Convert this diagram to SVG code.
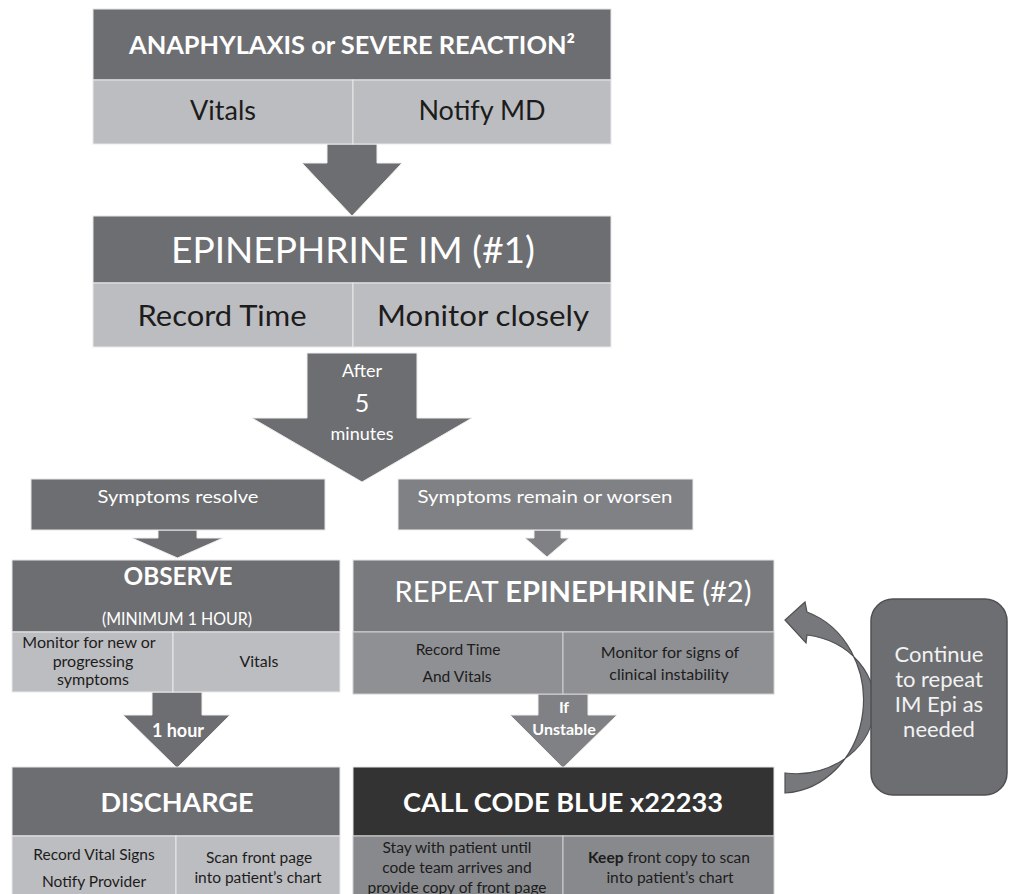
<svg xmlns="http://www.w3.org/2000/svg" width="1011" height="894" viewBox="0 0 1011 894">
<style>
text{font-family:Lato,"Open Sans","Liberation Sans",sans-serif;text-anchor:middle}
.hd{fill:#6d6e71;stroke:#e6e6e6;stroke-width:1}
.hd2{fill:#797a7d;stroke:#e6e6e6;stroke-width:1}
.hd3{fill:#333333;stroke:#e6e6e6;stroke-width:1}
.cl{fill:#bcbdc0;stroke:#e9e9e9;stroke-width:1}
.cm{fill:#8f9093;stroke:#d0d0d0;stroke-width:1}
.cn{fill:#88898c;stroke:#d0d0d0;stroke-width:1}
.ar{fill:#6d6e71;stroke:#eeeeee;stroke-width:1}
.ar2{fill:#808184;stroke:#eeeeee;stroke-width:1}
.w{fill:#ffffff}
.wb{fill:#ffffff;font-weight:bold}
.d{fill:#1c1c1c}
.db{fill:#1c1c1c;font-weight:bold}
</style>
<g id="connectors">
<polygon class="ar" points="327,144 377,144 377,163 402,163 352,216 302,163 327,163"/>
<polygon class="ar" points="307,353 417,353 417,418 472,418 362,482 252,418 307,418"/>
<polygon class="ar" points="158,530 197,530 197,538 223,538 177.5,558 132,538 158,538"/>
<polygon class="ar2" points="534,530 561,530 561,538 569,538 547,557 525,538 534,538"/>
<polygon class="ar" points="152,692 202,692 202,715 230,715 177,768 123,715 152,715"/>
<polygon class="ar2" points="538,694 588,694 588,715 617,715 563,768 510,715 538,715"/>
<path d="M785,793 A83,93 0 0 0 807,612 L805,602 L785,620 L806,643 L807,635 A78,69 0 0 1 785,773 Z" fill="#77787b" stroke="#4f5052" stroke-width="1.2"/>
</g>
<g id="anaphylaxis">
<rect class="hd" x="93" y="9" width="518" height="71"/>
<rect class="cl" x="93" y="80" width="260" height="64"/>
<rect class="cl" x="353" y="80" width="258" height="64"/>
<text class="wb" x="352" y="54" font-size="25" textLength="446" lengthAdjust="spacingAndGlyphs">ANAPHYLAXIS or SEVERE REACTION²</text>
<text class="d" x="223" y="120" font-size="27">Vitals</text>
<text class="d" x="482" y="120" font-size="27">Notify MD</text>
</g>
<g id="epinephrine1">
<rect class="hd" x="93" y="216" width="518" height="67"/>
<rect class="cl" x="93" y="283" width="260" height="64"/>
<rect class="cl" x="353" y="283" width="258" height="64"/>
<text class="w" x="353" y="263" font-size="37" textLength="364" lengthAdjust="spacingAndGlyphs">EPINEPHRINE IM (#1)</text>
<text class="d" x="222" y="326" font-size="29" textLength="169" lengthAdjust="spacingAndGlyphs">Record Time</text>
<text class="d" x="483" y="326" font-size="29" textLength="212" lengthAdjust="spacingAndGlyphs">Monitor closely</text>
</g>
<g id="after5">
<text class="w" x="362" y="377" font-size="18">After</text>
<text class="w" x="362" y="412" font-size="25">5</text>
<text class="w" x="362" y="440" font-size="18">minutes</text>
</g>
<g id="resolve">
<rect class="hd" x="31" y="479" width="294" height="51"/>
<text class="w" x="178" y="503" font-size="18" textLength="161" lengthAdjust="spacingAndGlyphs">Symptoms resolve</text>
</g>
<g id="remain">
<rect class="ar2" x="398" y="479" width="295" height="51"/>
<text class="w" x="545" y="503" font-size="18" textLength="255" lengthAdjust="spacingAndGlyphs">Symptoms remain or worsen</text>
</g>
<g id="observe">
<rect class="hd" x="12" y="560" width="328" height="72"/>
<rect class="cl" x="12" y="632" width="161" height="60"/>
<rect class="cl" x="173" y="632" width="167" height="60"/>
<text class="wb" x="178" y="585" font-size="24" textLength="109" lengthAdjust="spacingAndGlyphs">OBSERVE</text>
<text class="w" x="177" y="625" font-size="16.5" textLength="150" lengthAdjust="spacingAndGlyphs">(MINIMUM 1 HOUR)</text>
<text class="d" x="89" y="648" font-size="16">Monitor for new or</text>
<text class="d" x="93" y="667" font-size="16">progressing</text>
<text class="d" x="93" y="685" font-size="16">symptoms</text>
<text class="d" x="259" y="667" font-size="16">Vitals</text>
</g>
<g id="repeat">
<rect class="hd2" x="353" y="560" width="421" height="72"/>
<rect class="cm" x="353" y="632" width="210" height="62"/>
<rect class="cm" x="563" y="632" width="211" height="62"/>
<text class="w" x="573" y="602" font-size="28" textLength="357" lengthAdjust="spacingAndGlyphs">REPEAT <tspan font-weight="bold">EPINEPHRINE</tspan> (#2)</text>
<text class="d" x="458" y="655" font-size="15.5">Record Time</text>
<text class="d" x="457" y="682" font-size="15.5">And Vitals</text>
<text class="d" x="670" y="658" font-size="16">Monitor for signs of</text>
<text class="d" x="669" y="680" font-size="16">clinical instability</text>
</g>
<g id="labels">
<text class="wb" x="178" y="737" font-size="18">1 hour</text>
<text class="wb" x="564" y="713" font-size="16">If</text>
<text class="wb" x="564" y="735" font-size="16">Unstable</text>
</g>
<g id="discharge">
<rect class="hd" x="12" y="767" width="328" height="69"/>
<rect class="cl" x="12" y="836" width="164" height="60"/>
<rect class="cl" x="176" y="836" width="164" height="60"/>
<text class="wb" x="177" y="812" font-size="27" textLength="153" lengthAdjust="spacingAndGlyphs">DISCHARGE</text>
<text class="d" x="94" y="860" font-size="15.5">Record Vital Signs</text>
<text class="d" x="94" y="887" font-size="15.5">Notify Provider</text>
<text class="d" x="259" y="863" font-size="15.5">Scan front page</text>
<text class="d" x="258" y="883" font-size="15.5">into patient’s chart</text>
</g>
<g id="codeblue">
<rect class="hd3" x="353" y="767" width="421" height="69"/>
<rect class="cn" x="353" y="836" width="210" height="60"/>
<rect class="cn" x="563" y="836" width="211" height="60"/>
<text class="wb" x="563" y="812" font-size="27" textLength="320" lengthAdjust="spacingAndGlyphs">CALL CODE BLUE x22233</text>
<text class="d" x="457" y="853" font-size="15.5">Stay with patient until</text>
<text class="d" x="457" y="873" font-size="15.5">code team arrives and</text>
<text class="d" x="457" y="893" font-size="15.5">provide copy of front page</text>
<text class="d" x="669" y="863" font-size="15.5"><tspan font-weight="bold">Keep</tspan> front copy to scan</text>
<text class="d" x="670" y="883" font-size="15.5">into patient’s chart</text>
</g>
<g id="continue">
<rect x="871" y="599" width="136" height="196" rx="22" ry="22" fill="#6d6e71" stroke="#4f5052" stroke-width="1.5"/>
<text fill="#f2f2f2" x="939" y="662" font-size="22">Continue</text>
<text fill="#f2f2f2" x="939" y="687" font-size="22">to repeat</text>
<text fill="#f2f2f2" x="939" y="712" font-size="22">IM Epi as</text>
<text fill="#f2f2f2" x="939" y="737" font-size="22">needed</text>
</g>
</svg>
